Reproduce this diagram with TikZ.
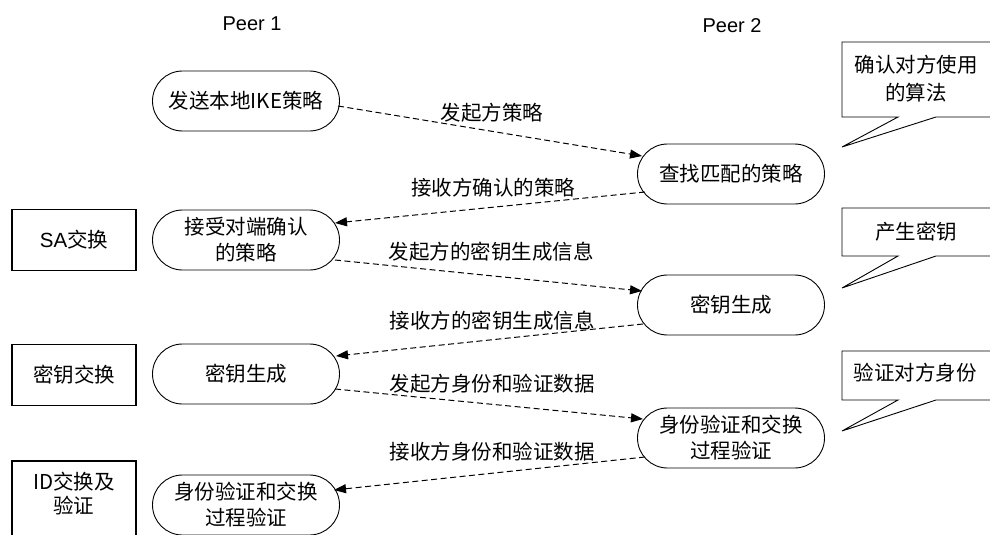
\documentclass[tikz,border=0pt]{standalone}
\usepackage{fontspec}
\setmainfont{Liberation Sans}
\newfontfamily\cjk{Noto Sans CJK SC}
\usetikzlibrary{shapes.misc,arrows.meta}
\begin{document}
\begin{tikzpicture}[x=1pt,y=-1pt,
  stadium/.style={rounded rectangle, draw, line width=0.9pt, minimum width=187pt, minimum height=60pt, inner sep=0pt, align=center, font=\cjk\fontsize{20.5}{26}\selectfont},
  phase/.style={draw, line width=1.4pt, minimum width=124pt, minimum height=61pt, inner sep=0pt, align=center, font=\fontsize{20.5}{24}\selectfont},
  msg/.style={draw, dash pattern=on 6pt off 3.5pt, line width=1pt, -{Triangle[length=12pt,width=9pt]}},
  lbl/.style={font=\cjk\fontsize{20.5}{24}\selectfont, inner sep=0pt},
  peer/.style={font=\fontsize{20}{24}\selectfont, inner sep=0pt},
  callout/.style={draw, line width=0.9pt},
  ctext/.style={font=\cjk\fontsize{20.5}{28}\selectfont, inner sep=0pt, align=center}
]
\useasboundingbox (0,0) rectangle (990,535);
\clip (0,0) rectangle (990,535);

% peer headers
\node[peer] (p1) at (252,24) {Peer 1};
\node[peer] (p2) at (732,26) {Peer 2};

% phase boxes
\node[phase] (sa) at (74,240) {SA{\cjk 交换}};
\node[phase, font=\cjk\fontsize{20.5}{24}\selectfont] (ke) at (74,375) {密钥交换};
\draw[line width=1.4pt] (12,545) -- (12,461) -- (136,461) -- (136,545);
\node[ctext, font=\cjk\fontsize{20.5}{24}\selectfont] (idt) at (74,494) {ID交换及\\验证};

% peer 1 steps
\node[stadium] (n1) at (246,101) {发送本地IKE策略};
\node[stadium] (n2) at (246,240) {接受对端确认\\的策略};
\node[stadium] (n3) at (246,374) {密钥生成};
\node[stadium] (n4) at (246,505) {身份验证和交换\\过程验证};

% peer 2 steps
\node[stadium] (r1) at (731,174) {查找匹配的策略};
\node[stadium] (r2) at (731,305) {密钥生成};
\node[stadium] (r3) at (731,438) {身份验证和交换\\过程验证};

% messages
\draw[msg] ([shift={(92,5)}]n1.center) -- ([shift={(-89,-18)}]r1.center);
\draw[msg] ([shift={(-86,18)}]r1.center) -- ([shift={(89,-17)}]n2.center);
\draw[msg] ([shift={(89,20)}]n2.center) -- ([shift={(-89,-14)}]r2.center);
\draw[msg] ([shift={(-88,19)}]r2.center) -- ([shift={(90,-18)}]n3.center);
\draw[msg] ([shift={(89,15)}]n3.center) -- ([shift={(-88,-19)}]r3.center);
\draw[msg] ([shift={(-86,19)}]r3.center) -- ([shift={(88,-15)}]n4.center);

% message labels
\node[lbl] (l1) at (492,113) {发起方策略};
\node[lbl] (l2) at (493,188) {接收方确认的策略};
\node[lbl] (l3) at (491,252) {发起方的密钥生成信息};
\node[lbl] (l4) at (492,321) {接收方的密钥生成信息};
\node[lbl] (l5) at (492,384) {发起方身份和验证数据};
\node[lbl] (l6) at (492,452) {接收方身份和验证数据};

% callouts
\draw[callout] (995,42) -- (842,42) -- (842,117) -- (898,117) -- (842,147) -- (936,117) -- (995,117);
\node[ctext] (c1) at (916,79) {确认对方使用\\的算法};
\draw[callout] (995,208) -- (842,208) -- (842,256) -- (898,256) -- (842,288) -- (936,256) -- (995,256);
\node[ctext] (c2) at (916,232) {产生密钥};
\draw[callout] (995,351) -- (842,351) -- (842,400) -- (898,400) -- (842,431) -- (936,400) -- (995,400);
\node[ctext] (c3) at (915,373) {验证对方身份};
\end{tikzpicture}
\end{document}
